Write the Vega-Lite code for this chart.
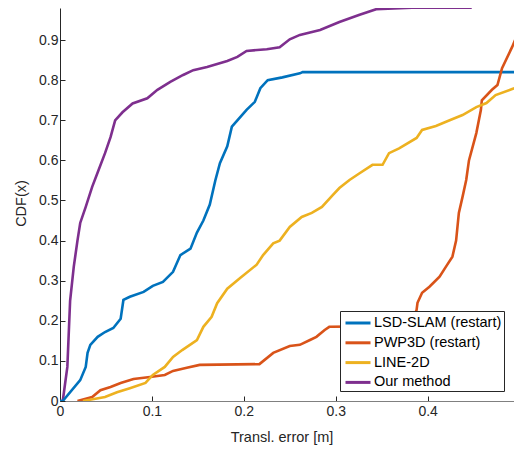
{
  "$schema": "https://vega.github.io/schema/vega-lite/v6.json",
  "width": 454,
  "height": 393,
  "autosize": {"type": "none"},
  "padding": {"left": 60, "top": 8, "right": 0, "bottom": 48},
  "background": "white",
  "config": {
    "view": {"stroke": null},
    "font": "Liberation Sans",
    "axis": {
      "labelFont": "Liberation Sans",
      "titleFont": "Liberation Sans",
      "labelColor": "#262626",
      "titleColor": "#262626",
      "labelFontSize": 14,
      "titleFontSize": 14.5,
      "titleFontWeight": "normal",
      "grid": false,
      "tickColor": "#262626",
      "domainColor": "#262626",
      "tickSize": -5,
      "domainWidth": 1,
      "tickWidth": 1
    }
  },
  "data": {
    "values": [
      {"m": "Our method", "x": 0.0, "y": 0.0},
      {"m": "Our method", "x": 0.003, "y": 0.0},
      {"m": "Our method", "x": 0.008, "y": 0.085},
      {"m": "Our method", "x": 0.011, "y": 0.25},
      {"m": "Our method", "x": 0.015, "y": 0.335},
      {"m": "Our method", "x": 0.019, "y": 0.4},
      {"m": "Our method", "x": 0.022, "y": 0.444},
      {"m": "Our method", "x": 0.028, "y": 0.484},
      {"m": "Our method", "x": 0.035, "y": 0.534},
      {"m": "Our method", "x": 0.042, "y": 0.576},
      {"m": "Our method", "x": 0.049, "y": 0.618},
      {"m": "Our method", "x": 0.055, "y": 0.658},
      {"m": "Our method", "x": 0.06, "y": 0.7},
      {"m": "Our method", "x": 0.068, "y": 0.72},
      {"m": "Our method", "x": 0.079, "y": 0.742},
      {"m": "Our method", "x": 0.095, "y": 0.755},
      {"m": "Our method", "x": 0.106, "y": 0.776},
      {"m": "Our method", "x": 0.12, "y": 0.796},
      {"m": "Our method", "x": 0.134, "y": 0.813},
      {"m": "Our method", "x": 0.145, "y": 0.825},
      {"m": "Our method", "x": 0.16, "y": 0.833},
      {"m": "Our method", "x": 0.182, "y": 0.848},
      {"m": "Our method", "x": 0.193, "y": 0.858},
      {"m": "Our method", "x": 0.203, "y": 0.873},
      {"m": "Our method", "x": 0.225, "y": 0.877},
      {"m": "Our method", "x": 0.239, "y": 0.882},
      {"m": "Our method", "x": 0.25, "y": 0.902},
      {"m": "Our method", "x": 0.261, "y": 0.913},
      {"m": "Our method", "x": 0.283, "y": 0.925},
      {"m": "Our method", "x": 0.304, "y": 0.945},
      {"m": "Our method", "x": 0.326, "y": 0.963},
      {"m": "Our method", "x": 0.344, "y": 0.977},
      {"m": "Our method", "x": 0.383, "y": 0.981},
      {"m": "Our method", "x": 0.448, "y": 0.981},

      {"m": "LSD-SLAM (restart)", "x": 0.0, "y": 0.0},
      {"m": "LSD-SLAM (restart)", "x": 0.003, "y": 0.0},
      {"m": "LSD-SLAM (restart)", "x": 0.022, "y": 0.052},
      {"m": "LSD-SLAM (restart)", "x": 0.028, "y": 0.085},
      {"m": "LSD-SLAM (restart)", "x": 0.03, "y": 0.12},
      {"m": "LSD-SLAM (restart)", "x": 0.033, "y": 0.14},
      {"m": "LSD-SLAM (restart)", "x": 0.041, "y": 0.16},
      {"m": "LSD-SLAM (restart)", "x": 0.049, "y": 0.172},
      {"m": "LSD-SLAM (restart)", "x": 0.058, "y": 0.182},
      {"m": "LSD-SLAM (restart)", "x": 0.066, "y": 0.205},
      {"m": "LSD-SLAM (restart)", "x": 0.069, "y": 0.252},
      {"m": "LSD-SLAM (restart)", "x": 0.076, "y": 0.26},
      {"m": "LSD-SLAM (restart)", "x": 0.091, "y": 0.272},
      {"m": "LSD-SLAM (restart)", "x": 0.101, "y": 0.287},
      {"m": "LSD-SLAM (restart)", "x": 0.112, "y": 0.297},
      {"m": "LSD-SLAM (restart)", "x": 0.123, "y": 0.322},
      {"m": "LSD-SLAM (restart)", "x": 0.131, "y": 0.364},
      {"m": "LSD-SLAM (restart)", "x": 0.142, "y": 0.38},
      {"m": "LSD-SLAM (restart)", "x": 0.149, "y": 0.42},
      {"m": "LSD-SLAM (restart)", "x": 0.156, "y": 0.45},
      {"m": "LSD-SLAM (restart)", "x": 0.163, "y": 0.49},
      {"m": "LSD-SLAM (restart)", "x": 0.169, "y": 0.55},
      {"m": "LSD-SLAM (restart)", "x": 0.174, "y": 0.593},
      {"m": "LSD-SLAM (restart)", "x": 0.182, "y": 0.635},
      {"m": "LSD-SLAM (restart)", "x": 0.187, "y": 0.684},
      {"m": "LSD-SLAM (restart)", "x": 0.193, "y": 0.7},
      {"m": "LSD-SLAM (restart)", "x": 0.203, "y": 0.726},
      {"m": "LSD-SLAM (restart)", "x": 0.212, "y": 0.746},
      {"m": "LSD-SLAM (restart)", "x": 0.218, "y": 0.78},
      {"m": "LSD-SLAM (restart)", "x": 0.226, "y": 0.8},
      {"m": "LSD-SLAM (restart)", "x": 0.242, "y": 0.807},
      {"m": "LSD-SLAM (restart)", "x": 0.261, "y": 0.817},
      {"m": "LSD-SLAM (restart)", "x": 0.264, "y": 0.82},
      {"m": "LSD-SLAM (restart)", "x": 0.5, "y": 0.82},

      {"m": "PWP3D (restart)", "x": 0.019, "y": 0.0},
      {"m": "PWP3D (restart)", "x": 0.035, "y": 0.01},
      {"m": "PWP3D (restart)", "x": 0.044, "y": 0.027},
      {"m": "PWP3D (restart)", "x": 0.055, "y": 0.035},
      {"m": "PWP3D (restart)", "x": 0.066, "y": 0.045},
      {"m": "PWP3D (restart)", "x": 0.08, "y": 0.055},
      {"m": "PWP3D (restart)", "x": 0.098, "y": 0.06},
      {"m": "PWP3D (restart)", "x": 0.114, "y": 0.065},
      {"m": "PWP3D (restart)", "x": 0.123, "y": 0.075},
      {"m": "PWP3D (restart)", "x": 0.138, "y": 0.083},
      {"m": "PWP3D (restart)", "x": 0.152, "y": 0.09},
      {"m": "PWP3D (restart)", "x": 0.217, "y": 0.092},
      {"m": "PWP3D (restart)", "x": 0.232, "y": 0.12},
      {"m": "PWP3D (restart)", "x": 0.25, "y": 0.137},
      {"m": "PWP3D (restart)", "x": 0.261, "y": 0.14},
      {"m": "PWP3D (restart)", "x": 0.272, "y": 0.152},
      {"m": "PWP3D (restart)", "x": 0.279, "y": 0.16},
      {"m": "PWP3D (restart)", "x": 0.288, "y": 0.177},
      {"m": "PWP3D (restart)", "x": 0.293, "y": 0.185},
      {"m": "PWP3D (restart)", "x": 0.34, "y": 0.186},
      {"m": "PWP3D (restart)", "x": 0.37, "y": 0.19},
      {"m": "PWP3D (restart)", "x": 0.385, "y": 0.21},
      {"m": "PWP3D (restart)", "x": 0.388, "y": 0.227},
      {"m": "PWP3D (restart)", "x": 0.389, "y": 0.245},
      {"m": "PWP3D (restart)", "x": 0.394, "y": 0.27},
      {"m": "PWP3D (restart)", "x": 0.402, "y": 0.285},
      {"m": "PWP3D (restart)", "x": 0.413, "y": 0.31},
      {"m": "PWP3D (restart)", "x": 0.42, "y": 0.335},
      {"m": "PWP3D (restart)", "x": 0.427, "y": 0.36},
      {"m": "PWP3D (restart)", "x": 0.431, "y": 0.4},
      {"m": "PWP3D (restart)", "x": 0.434, "y": 0.469},
      {"m": "PWP3D (restart)", "x": 0.438, "y": 0.509},
      {"m": "PWP3D (restart)", "x": 0.442, "y": 0.551},
      {"m": "PWP3D (restart)", "x": 0.445, "y": 0.6},
      {"m": "PWP3D (restart)", "x": 0.453, "y": 0.668},
      {"m": "PWP3D (restart)", "x": 0.458, "y": 0.726},
      {"m": "PWP3D (restart)", "x": 0.459, "y": 0.75},
      {"m": "PWP3D (restart)", "x": 0.47, "y": 0.776},
      {"m": "PWP3D (restart)", "x": 0.476, "y": 0.788},
      {"m": "PWP3D (restart)", "x": 0.481, "y": 0.83},
      {"m": "PWP3D (restart)", "x": 0.492, "y": 0.883},
      {"m": "PWP3D (restart)", "x": 0.497, "y": 0.91},

      {"m": "LINE-2D", "x": 0.025, "y": 0.0},
      {"m": "LINE-2D", "x": 0.049, "y": 0.01},
      {"m": "LINE-2D", "x": 0.062, "y": 0.022},
      {"m": "LINE-2D", "x": 0.076, "y": 0.032},
      {"m": "LINE-2D", "x": 0.093, "y": 0.045},
      {"m": "LINE-2D", "x": 0.101, "y": 0.065},
      {"m": "LINE-2D", "x": 0.114, "y": 0.085},
      {"m": "LINE-2D", "x": 0.123, "y": 0.11},
      {"m": "LINE-2D", "x": 0.133, "y": 0.127},
      {"m": "LINE-2D", "x": 0.149, "y": 0.152},
      {"m": "LINE-2D", "x": 0.156, "y": 0.185},
      {"m": "LINE-2D", "x": 0.165, "y": 0.21},
      {"m": "LINE-2D", "x": 0.171, "y": 0.244},
      {"m": "LINE-2D", "x": 0.182, "y": 0.28},
      {"m": "LINE-2D", "x": 0.196, "y": 0.307},
      {"m": "LINE-2D", "x": 0.214, "y": 0.34},
      {"m": "LINE-2D", "x": 0.221, "y": 0.364},
      {"m": "LINE-2D", "x": 0.232, "y": 0.393},
      {"m": "LINE-2D", "x": 0.239, "y": 0.4},
      {"m": "LINE-2D", "x": 0.25, "y": 0.434},
      {"m": "LINE-2D", "x": 0.263, "y": 0.459},
      {"m": "LINE-2D", "x": 0.274, "y": 0.469},
      {"m": "LINE-2D", "x": 0.285, "y": 0.484},
      {"m": "LINE-2D", "x": 0.297, "y": 0.514},
      {"m": "LINE-2D", "x": 0.304, "y": 0.531},
      {"m": "LINE-2D", "x": 0.315, "y": 0.551},
      {"m": "LINE-2D", "x": 0.326, "y": 0.568},
      {"m": "LINE-2D", "x": 0.34, "y": 0.589},
      {"m": "LINE-2D", "x": 0.351, "y": 0.589},
      {"m": "LINE-2D", "x": 0.358, "y": 0.618},
      {"m": "LINE-2D", "x": 0.369, "y": 0.63},
      {"m": "LINE-2D", "x": 0.388, "y": 0.656},
      {"m": "LINE-2D", "x": 0.394, "y": 0.676},
      {"m": "LINE-2D", "x": 0.409, "y": 0.686},
      {"m": "LINE-2D", "x": 0.424, "y": 0.7},
      {"m": "LINE-2D", "x": 0.438, "y": 0.713},
      {"m": "LINE-2D", "x": 0.453, "y": 0.733},
      {"m": "LINE-2D", "x": 0.464, "y": 0.743},
      {"m": "LINE-2D", "x": 0.474, "y": 0.763},
      {"m": "LINE-2D", "x": 0.492, "y": 0.778},
      {"m": "LINE-2D", "x": 0.5, "y": 0.785}
    ]
  },
  "mark": {"type": "line", "strokeWidth": 2.6, "clip": true, "interpolate": "linear"},
  "encoding": {
    "x": {
      "field": "x",
      "type": "quantitative",
      "scale": {"domain": [0, 0.494], "nice": false, "zero": false},
      "axis": {
        "values": [0, 0.1, 0.2, 0.3, 0.4],
        "format": "~g",
        "title": "Transl. error [m]",
        "labelPadding": 8,
        "domainColor": "#808080",
        "titleX": 221.5,
        "titleY": 40,
        "titleBaseline": "alphabetic",
        "titleAnchor": null,
        "labelFlush": false
      }
    },
    "y": {
      "field": "y",
      "type": "quantitative",
      "scale": {"domain": [0, 0.98], "nice": false},
      "axis": {
        "values": [0, 0.1, 0.2, 0.3, 0.4, 0.5, 0.6, 0.7, 0.8, 0.9],
        "format": "~g",
        "title": "CDF(x)",
        "labelPadding": 7,
        "titleX": -39,
        "titleY": 195,
        "titleAngle": -90,
        "titleBaseline": "middle",
        "titleAlign": "center",
        "labelFlush": false
      }
    },
    "color": {
      "field": "m",
      "type": "nominal",
      "scale": {
        "domain": ["LSD-SLAM (restart)", "PWP3D (restart)", "LINE-2D", "Our method"],
        "range": ["#0072BD", "#D95319", "#EDB120", "#7E2F8E"]
      },
      "legend": {
        "title": null,
        "orient": "none",
        "legendX": 280,
        "legendY": 303,
        "symbolType": "M-1.5,0H1.5",
        "symbolSize": 278,
        "symbolStrokeWidth": 3,
        "symbolOffset": 6,
        "labelFont": "Liberation Sans",
        "labelFontSize": 14.5,
        "labelColor": "#000000",
        "labelOffset": 6,
        "rowPadding": 2.8,
        "padding": 2,
        "fillColor": "white",
        "strokeColor": "#262626",
        "labelLimit": 300
      }
    }
  }
}
